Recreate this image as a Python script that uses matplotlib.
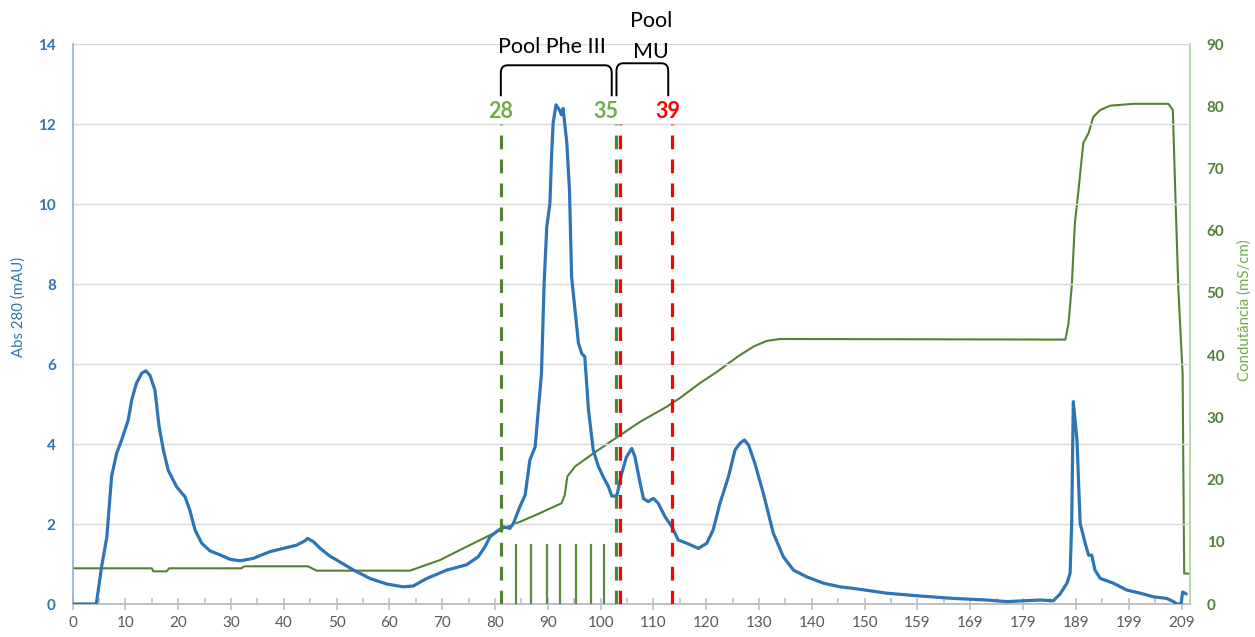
import matplotlib
matplotlib.use('Agg')
import matplotlib.pyplot as plt
import numpy as np

plt.rcParams['font.family'] = ['Lato', 'DejaVu Sans']

# Abs 280 trace (mAU) against elution position
abs_x = [0, 4.5, 5.5, 6.5, 7.4, 8.35, 9.3, 10.55, 11.2, 12.1, 13.1, 13.9, 14.65, 15.6,
         16.4, 17.2, 18.1, 19.7, 21.3, 22.2, 23.2, 24.45, 26.0, 27.9, 29.8, 31.7, 34.2,
         37.4, 39.9, 42.4, 44.0, 44.5, 45.6, 46.9, 48.7, 50.0, 53.2, 56.3, 59.5, 62.6,
         64.5, 67.1, 70.9, 74.6, 76.8, 78.1, 79.05, 80.3, 81.6, 82.8, 83.5, 84.7, 85.7,
         86.6, 87.6, 88.2, 88.8, 89.3, 89.8, 90.4, 90.7, 91.0, 91.55, 92.2, 92.6, 92.9,
         93.6, 94.1, 94.5, 95.15, 95.8, 96.4, 97.0, 97.7, 98.6, 99.6, 100.5, 101.5,
         102.1, 103.05, 104.0, 104.9, 105.9, 106.5, 107.3, 108.1, 109.0, 110.0, 110.9,
         112.2, 113.5, 114.7, 116.3, 118.5, 120.1, 121.3, 122.6, 124.2, 125.45, 126.4,
         127.2, 128.0, 129.2, 130.8, 132.7, 134.6, 136.5, 139.0, 142.2, 145.3, 147.9,
         154.2, 160.5, 166.8, 173.1, 176.9, 183.2, 185.7, 187.0, 188.3, 188.9, 189.2,
         189.5, 190.2, 190.8, 191.75, 192.4, 193.0, 193.6, 194.6, 197.1, 199.6, 202.2,
         204.7, 207.2, 208.6, 209.1, 209.9, 210.2, 210.9]
abs_y = [0, 0, 0.93, 1.68, 3.2, 3.77, 4.1, 4.6, 5.1, 5.52, 5.77, 5.83, 5.72, 5.35,
         4.43, 3.85, 3.35, 2.93, 2.68, 2.35, 1.85, 1.52, 1.33, 1.23, 1.12, 1.08, 1.14,
         1.31, 1.39, 1.47, 1.58, 1.64, 1.56, 1.39, 1.2, 1.1, 0.85, 0.64, 0.5, 0.43,
         0.45, 0.64, 0.85, 0.98, 1.18, 1.43, 1.68, 1.81, 1.93, 1.89, 2.02, 2.43, 2.72,
         3.6, 3.93, 4.85, 5.77, 8.02, 9.43, 10.02, 11.18, 12.02, 12.48, 12.35, 12.23, 12.39,
         11.52, 10.35, 8.18, 7.35, 6.52, 6.27, 6.18, 4.85, 3.85, 3.43, 3.18, 2.93,
         2.7, 2.7, 3.27, 3.68, 3.89, 3.68, 3.14, 2.64, 2.56, 2.64, 2.52,
         2.18, 1.93, 1.6, 1.52, 1.39, 1.52, 1.85, 2.52, 3.18, 3.85, 4.02,
         4.1, 3.98, 3.52, 2.77, 1.77, 1.18, 0.85, 0.68, 0.52, 0.43, 0.39,
         0.27, 0.2, 0.14, 0.1, 0.06, 0.1, 0.08, 0.25, 0.52, 0.77, 2.02,
         5.06, 4.1, 2.02, 1.52, 1.22, 1.22, 0.85, 0.64, 0.52, 0.35, 0.27,
         0.18, 0.14, 0.05, 0.0, 0.0, 0.3, 0.25]

# Conductivity trace (mS/cm)
cond_x = [0, 15.0, 15.3, 17.8, 18.3, 32.0, 32.5, 44.6, 46.2, 63.9, 69.6, 74.0, 78.4,
          82.2, 84.7, 88.5, 92.6, 93.2, 93.7, 95.15, 98.6, 102.4, 107.5, 112.5, 115.0,
          118.8, 122.0, 126.0, 129.0, 131.5, 134.0, 188.0, 188.6, 189.2, 189.8, 190.5,
          191.4, 192.4, 193.3, 194.6, 196.5, 200.9, 207.5, 208.35, 208.8, 209.4, 210.2,
          210.5, 211.6]
cond_y = [5.74, 5.74, 5.25, 5.25, 5.74, 5.74, 6.06, 6.06, 5.36, 5.36, 7.07, 8.95, 10.8,
          12.4, 13.2, 14.6, 16.2, 17.5, 20.5, 22.1, 24.2, 26.4, 29.3, 31.7, 33.1,
          35.5, 37.3, 39.8, 41.4, 42.3, 42.6, 42.5, 45.1, 51.0, 61.2, 66.6,
          74.1, 75.7, 78.3, 79.4, 80.1, 80.4, 80.4, 79.4, 66.6, 50.5, 37.1,
          4.9, 4.9]

# collected fractions (short markers) and pool limits
fraction_x = [83.9, 86.9, 89.8, 92.3, 95.3, 98.2, 100.6]
fraction_h = 1.48
green_cuts = [81.1, 102.9]
red_cuts = [103.6, 113.6]
cut_labels = ['28', '35', '39']
cut_label_x = [81.0, 101.0, 112.8]
cut_label_colors = ['#70ad47', '#70ad47', '#ff0000']

x_labels = ['0', '10', '20', '30', '40', '50', '60', '70', '80', '90', '100', '110',
            '120', '130', '140', '150', '159', '169', '179', '189', '199', '209']

fig = plt.figure(figsize=(12.55, 6.37), dpi=100)
ax = fig.add_axes([0.0578, 0.0518, 0.8904, 0.879])
ax2 = ax.twinx()
ax.set_zorder(ax2.get_zorder() + 1)
ax.patch.set_visible(False)

ax2.plot(cond_x, cond_y, color='#548235', lw=1.5, solid_joinstyle='round')
ax.plot(abs_x, abs_y, color='#2e75b6', lw=2.3, zorder=3,
        solid_joinstyle='round', solid_capstyle='round')

# fraction markers
for fx in fraction_x:
    ax.plot([fx, fx], [0, fraction_h], color='#5b8c3a', lw=1.6, zorder=4)

# pool limits
for cx in green_cuts:
    ax.plot([cx, cx], [0, 12], color='#548235', lw=2.3, dashes=(4.3, 3.2), zorder=5)
for cx in red_cuts:
    ax.plot([cx, cx], [0, 12], color='#ff0000', lw=2.3, dashes=(4.3, 3.2), zorder=5)
for lab, lx, lc in zip(cut_labels, cut_label_x, cut_label_colors):
    ax.text(lx, 12.31, lab, color=lc, fontsize=15.5, fontweight='bold',
            ha='center', va='center')


def bracket(x0, x1, yb, yt, rx=1.3, ry=0.2):
    # open-bottom bracket with rounded top corners
    t = np.linspace(0, 1, 12)
    cx0 = (1 - t) ** 2 * x0 + 2 * t * (1 - t) * x0 + t ** 2 * (x0 + rx)
    cy0 = (1 - t) ** 2 * (yt - ry) + 2 * t * (1 - t) * yt + t ** 2 * yt
    cx1 = (1 - t) ** 2 * (x1 - rx) + 2 * t * (1 - t) * x1 + t ** 2 * x1
    cy1 = (1 - t) ** 2 * yt + 2 * t * (1 - t) * yt + t ** 2 * (yt - ry)
    xs = np.concatenate([[x0], cx0, cx1, [x1]])
    ys = np.concatenate([[yb], cy0, cy1, [yb]])
    ax.plot(xs, ys, color='black', lw=1.4, clip_on=False, zorder=6)


bracket(81.1, 102.1, 12.72, 13.47)
bracket(103.0, 112.8, 12.72, 13.52)
ax.text(90.75, 13.93, 'Pool Phe III', fontsize=15.5, ha='center', va='center')
ax.text(109.5, 14.58, 'Pool', fontsize=15.5, ha='center', va='center')
ax.text(109.5, 13.81, 'MU', fontsize=15.5, ha='center', va='center')

# axes
ax.set_xlim(0, 211.6)
ax.set_ylim(0, 14)
ax2.set_ylim(0, 90)
ax.set_xticks(np.arange(0, 211, 10))
ax.set_xticklabels(x_labels)
ax.set_xticks(np.arange(5, 211, 10), minor=True)
ax.set_yticks(np.arange(0, 15, 2))
ax2.set_yticks(np.arange(0, 91, 10))

ax.grid(axis='y', color='#d9d9d9', lw=1)
ax.set_axisbelow(True)

ax.tick_params(axis='x', which='major', direction='inout', length=9, width=1.2,
               color='#bfbfbf', labelsize=11, labelcolor='#595959', pad=4)
ax.tick_params(axis='x', which='minor', direction='in', length=4, width=1.2,
               color='#bfbfbf')
ax.tick_params(axis='y', length=0, labelsize=11, labelcolor='#2e75b6', pad=12)
for lbl in ax.get_yticklabels():
    lbl.set_fontweight('bold')
ax2.tick_params(axis='y', length=0, labelsize=11, labelcolor='#548235', pad=12)
for lbl in ax2.get_yticklabels():
    lbl.set_fontweight('bold')

for a in (ax, ax2):
    a.spines['top'].set_visible(False)
    a.spines['bottom'].set_color('#bfbfbf')
    a.spines['bottom'].set_linewidth(1.2)
ax.spines['left'].set_color('#8faadc')
ax.spines['left'].set_linewidth(1.2)
ax.spines['right'].set_visible(False)
ax2.spines['left'].set_visible(False)
ax2.spines['right'].set_color('#a9d18e')
ax2.spines['right'].set_linewidth(1.2)

ax.set_ylabel('Abs 280 (mAU)', color='#2e75b6', fontsize=10.8, labelpad=9)
ax2.set_ylabel('Condutância (mS/cm)', color='#70ad47', fontsize=10.8, labelpad=9)
ax.yaxis.label.set_y(0.53)
ax2.yaxis.label.set_y(0.525)

fig.savefig('out.png', dpi=100)
